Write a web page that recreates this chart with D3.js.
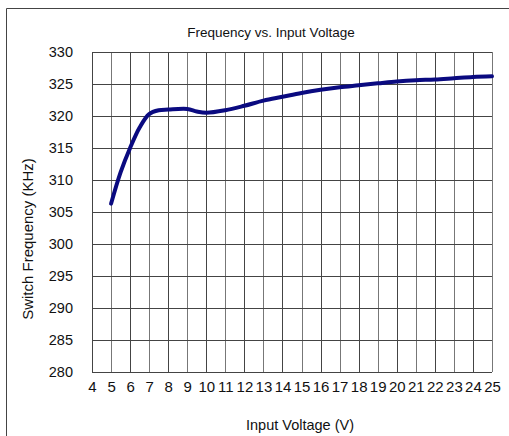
<!DOCTYPE html>
<html>
<head>
    <title>Frequency vs. Input Voltage</title>
    <script src="https://cdnjs.cloudflare.com/ajax/libs/d3/7.8.5/d3.min.js"></script>
    <style>
        body { margin: 0; background: #fff; }
        .lbl { font-family: Arial, 'Liberation Sans', sans-serif; fill: #111; }
    </style>
</head>
<body>
    <div id="chart"></div>
    <script>
//--------------------------------DATA--------------------------------
        var voltage   = [5, 5.5, 6, 6.5, 7, 7.5, 8, 9, 9.5, 10, 11, 12, 13, 14, 15, 16, 17, 18, 19, 20, 21, 22, 23, 24, 25];
        var frequency = [306.3, 311.2, 315.0, 318.2, 320.3, 320.9, 321.0, 321.1, 320.7, 320.5, 320.9, 321.6, 322.4, 323.0, 323.6, 324.1, 324.5, 324.8, 325.1, 325.4, 325.6, 325.7, 325.9, 326.1, 326.2];
        var xTicks = d3.range(4, 26);
        var yTicks = d3.range(280, 331, 5);

//--------------------------------BOX--------------------------------
        var W = 509, H = 436;
        var margin = { top: 52, right: 17, bottom: 64, left: 92 },
            width = W - margin.left - margin.right,
            height = H - margin.top - margin.bottom;

        var svg = d3.select("#chart").append("svg")
            .attr("width", W)
            .attr("height", H);

        // outer frame (only left and top visible)
        svg.append("path")
            .attr("d", "M6.5," + H + "V8.5H" + W)
            .attr("fill", "none")
            .attr("stroke", "#444")
            .attr("stroke-width", 1);

        var g = svg.append("g")
            .attr("transform", "translate(" + margin.left + "," + margin.top + ")");

//--------------------------------SCALES--------------------------------
        var x = d3.scaleLinear().domain([4, 25]).range([0, width]);
        var y = d3.scaleLinear().domain([280, 330]).range([height, 0]);

        // grid
        g.append("g").selectAll("line")
            .data(xTicks)
            .enter().append("line")
            .attr("x1", function (d) { return Math.round(x(d)) + 0.5; })
            .attr("x2", function (d) { return Math.round(x(d)) + 0.5; })
            .attr("y1", 0)
            .attr("y2", height)
            .attr("stroke", function (d, i) { return i % 2 ? "#777" : "#444"; });

        g.append("g").selectAll("line")
            .data(yTicks)
            .enter().append("line")
            .attr("x1", 0)
            .attr("x2", width)
            .attr("y1", function (d) { return Math.round(y(d)) + 0.5; })
            .attr("y2", function (d) { return Math.round(y(d)) + 0.5; })
            .attr("stroke", "#444");

        // axes (labels only)
        var xAxis = g.append("g")
            .attr("transform", "translate(0," + height + ")")
            .call(d3.axisBottom(x).tickValues(xTicks).tickSize(0).tickPadding(9).tickFormat(d3.format("d")));
        xAxis.select(".domain").remove();
        xAxis.selectAll("text").attr("class", "lbl").style("font-size", "15px");

        var yAxis = g.append("g")
            .call(d3.axisLeft(y).tickValues(yTicks).tickSize(0).tickPadding(19).tickFormat(d3.format("d")));
        yAxis.select(".domain").remove();
        yAxis.selectAll("text").attr("class", "lbl").style("font-size", "14.5px");

//--------------------------------LINE--------------------------------
        var pts = voltage.map(function (v, i) { return [v, frequency[i]]; });
        var line = d3.line()
            .x(function (d) { return x(d[0]); })
            .y(function (d) { return y(d[1]); })
            .curve(d3.curveCatmullRom.alpha(0.5));

        g.append("path")
            .datum(pts)
            .attr("d", line)
            .attr("fill", "none")
            .attr("stroke", "#0a0a80")
            .attr("stroke-width", 4)
            .attr("stroke-linecap", "round")
            .attr("stroke-linejoin", "round");

//--------------------------------TITLES--------------------------------
        svg.append("text")
            .attr("class", "lbl")
            .attr("x", 271)
            .attr("y", 37)
            .attr("text-anchor", "middle")
            .style("font-size", "13.5px")
            .text("Frequency vs. Input Voltage");

        svg.append("text")
            .attr("class", "lbl")
            .attr("x", 300)
            .attr("y", 430)
            .attr("text-anchor", "middle")
            .style("font-size", "14.5px")
            .text("Input Voltage (V)");

        svg.append("text")
            .attr("class", "lbl")
            .attr("transform", "translate(33,239) rotate(-90)")
            .attr("text-anchor", "middle")
            .style("font-size", "15px")
            .text("Switch Frequency (KHz)");
    </script>
</body>
</html>
